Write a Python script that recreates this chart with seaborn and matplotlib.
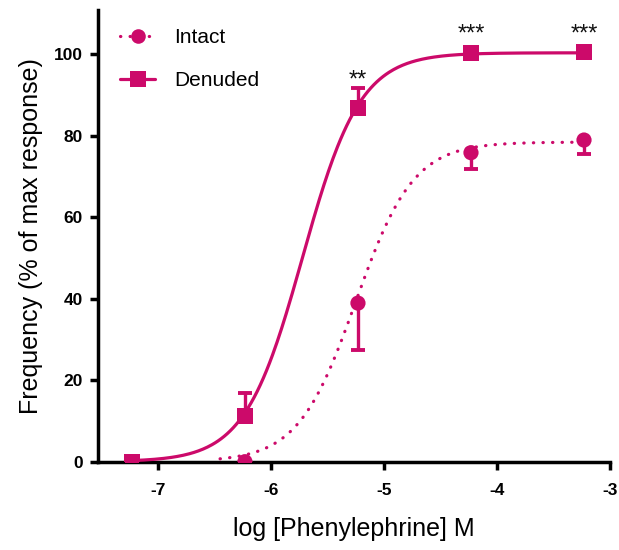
import numpy as np
import pandas as pd
import matplotlib
matplotlib.use("Agg")
import matplotlib.pyplot as plt
from matplotlib.lines import Line2D
import seaborn as sns

# ---- data ----
log_conc = [-7.23, -6.23, -5.23, -4.23, -3.23]
intact_mean = [0.0, 0.0, 38.9, 75.8, 78.9]
intact_err_low = [0.0, 0.0, 11.5, 4.0, 3.4]
denuded_mean = [0.0, 11.3, 86.8, 100.2, 100.4]
denuded_err_up = [0.0, 5.5, 4.8, 0.0, 0.0]

# fitted sigmoid parameters (bottom, top, logEC50, hill)
intact_fit = dict(bottom=0.0, top=78.4, logec50=-5.25, hill=1.7, start=-6.45)
denuded_fit = dict(bottom=0.0, top=100.3, logec50=-5.72, hill=1.7, start=-7.23)

sig_x = [-5.23, -4.23, -3.23]
sig_y = [92.0, 103.2, 103.2]
sig_text = ["**", "***", "***"]

xticks = [-7, -6, -5, -4, -3]
yticks = [0, 20, 40, 60, 80, 100]

color = "#CC0A6A"

sns.set_theme(style="ticks")
plt.rcParams['font.family'] = ['Liberation Sans', 'DejaVu Sans']
plt.rcParams.update({"text.color": "black", "axes.labelcolor": "black",
                     "xtick.color": "black", "ytick.color": "black"})

fig = plt.figure(figsize=(6.19, 5.5), dpi=100)
ax = fig.add_axes([98 / 619, 88.3 / 550, (610 - 98) / 619, (461.7 - 10) / 550])


def curve(p, xend):
    xs = np.linspace(p["start"], xend, 300)
    ys = p["bottom"] + (p["top"] - p["bottom"]) / (1 + 10 ** (p["hill"] * (p["logec50"] - xs)))
    return pd.DataFrame({"x": xs, "y": ys})


ci = curve(intact_fit, log_conc[-1])
cd = curve(denuded_fit, log_conc[-1])

sns.lineplot(data=ci, x="x", y="y", ax=ax, color=color, lw=2.3,
             linestyle=(0, (0.1, 2.9)), dash_capstyle="round", zorder=3)
sns.lineplot(data=cd, x="x", y="y", ax=ax, color=color, lw=2.3, zorder=3)

# error bars
ax.errorbar(log_conc, intact_mean, yerr=[intact_err_low, [0] * 5], fmt="none",
            ecolor=color, elinewidth=2.4, capsize=5, capthick=2.8, zorder=4)
ax.errorbar(log_conc, denuded_mean, yerr=[[0] * 5, denuded_err_up], fmt="none",
            ecolor=color, elinewidth=2.4, capsize=5, capthick=2.8, zorder=4)

df_i = pd.DataFrame({"x": log_conc, "y": intact_mean})
df_d = pd.DataFrame({"x": log_conc, "y": denuded_mean})
sns.scatterplot(data=df_i, x="x", y="y", ax=ax, marker="o", s=120, color=color,
                edgecolor="none", zorder=5)
sns.scatterplot(data=df_d, x="x", y="y", ax=ax, marker="s", s=130, color=color,
                edgecolor="none", zorder=6)

for sx, sy, st in zip(sig_x, sig_y, sig_text):
    ax.text(sx, sy, st, ha="center", va="baseline", fontsize=17, color="#111111")

ax.set_xlim(-7.53, -3.0)
ax.set_ylim(0, 110.8)
ax.set_xticks(xticks)
ax.set_xticklabels([str(t) for t in xticks])
ax.set_yticks(yticks)
ax.set_yticklabels([str(t) for t in yticks])
for lab in ax.get_xticklabels() + ax.get_yticklabels():
    lab.set_fontweight("bold")
    lab.set_fontsize(12.5)

sns.despine(ax=ax)
for s in ["left", "bottom"]:
    ax.spines[s].set_linewidth(2.5)
    ax.spines[s].set_color("black")
    ax.spines[s].set_zorder(2.5)
ax.tick_params(axis="both", length=6, width=2.5, color="black", direction="out")
ax.tick_params(axis="x", pad=9)
ax.tick_params(axis="y", pad=5)

ax.set_xlabel("log [Phenylephrine] M", fontsize=18, labelpad=14)
ax.set_ylabel("Frequency (% of max response)", fontsize=18, labelpad=8)

handles = [
    Line2D([], [], color=color, lw=2.3, linestyle=(0, (0.1, 2.9)), dash_capstyle="round",
           marker="o", markersize=10.5, markeredgewidth=0),
    Line2D([], [], color=color, lw=2.3, marker="s", markersize=11, markeredgewidth=0),
]
fig.legend(handles, ["Intact", "Denuded"], loc="upper left",
           bbox_to_anchor=(120 / 619, 1 - 28 / 550), frameon=False, fontsize=15,
           handlelength=1.7, handletextpad=0.9, labelspacing=1.15,
           borderpad=0, borderaxespad=0)

fig.savefig("out.png", dpi=100)
